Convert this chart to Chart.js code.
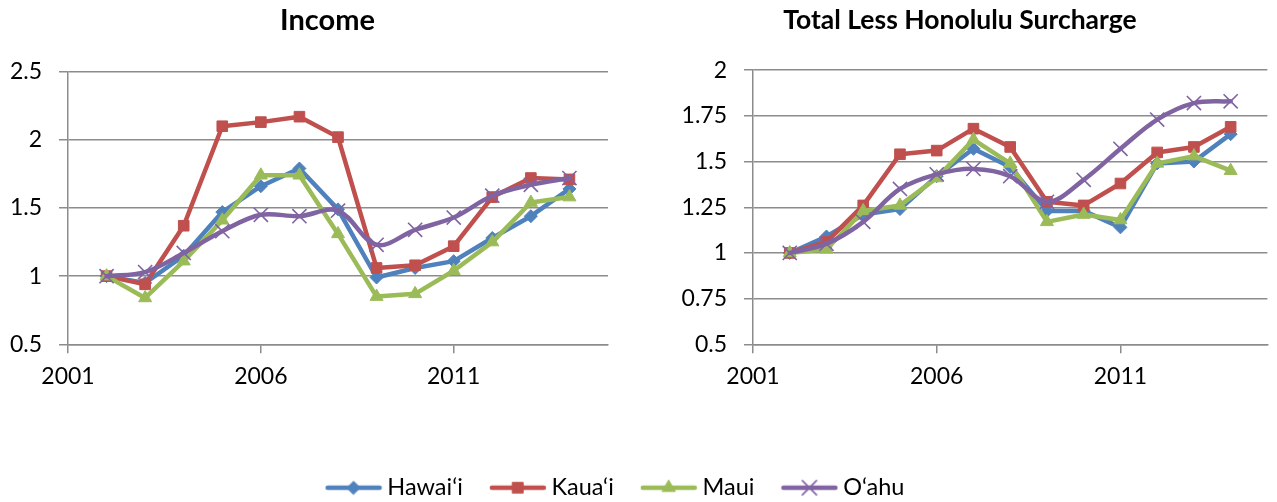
<!DOCTYPE html>
<html>
<head>
<meta charset="utf-8">
<script src="https://cdn.jsdelivr.net/npm/chart.js@4/dist/chart.umd.min.js"></script>
<style>
  html, body { margin: 0; padding: 0; background: #fff; overflow: hidden; width: 1277px; height: 502px; }
  canvas { position: absolute; }
</style>
</head>
<body>
<canvas id="c1" width="655" height="420" style="left:0;top:0;width:655px;height:420px"></canvas>
<canvas id="c2" width="638" height="420" style="left:641px;top:0;width:638px;height:420px"></canvas>
<canvas id="c3" width="1236" height="100" style="left:0;top:443px;width:1236px;height:100px"></canvas>
<script>
// ---------- data ----------
const years = [2002, 2003, 2004, 2005, 2006, 2007, 2008, 2009, 2010, 2011, 2012, 2013, 2014];
const seriesNames = ['Hawai\u2018i', 'Kaua\u2018i', 'Maui', 'O\u2018ahu'];

const incomeHawaii = [1.00, 0.95, 1.15, 1.47, 1.66, 1.79, 1.49, 0.99, 1.06, 1.11, 1.28, 1.44, 1.64];
const incomeKauai  = [1.00, 0.94, 1.37, 2.10, 2.13, 2.17, 2.02, 1.06, 1.08, 1.22, 1.58, 1.72, 1.71];
const incomeMaui   = [1.00, 0.84, 1.11, 1.41, 1.74, 1.74, 1.31, 0.85, 0.87, 1.04, 1.25, 1.54, 1.58];
const incomeOahu   = [1.00, 1.03, 1.17, 1.33, 1.45, 1.44, 1.48, 1.23, 1.34, 1.43, 1.59, 1.67, 1.72];

const totalHawaii = [1.00, 1.09, 1.21, 1.24, 1.42, 1.57, 1.47, 1.23, 1.23, 1.14, 1.49, 1.50, 1.65];
const totalKauai  = [1.00, 1.06, 1.26, 1.54, 1.56, 1.68, 1.58, 1.28, 1.26, 1.38, 1.55, 1.58, 1.69];
const totalMaui   = [1.00, 1.02, 1.23, 1.26, 1.41, 1.62, 1.49, 1.17, 1.21, 1.18, 1.49, 1.53, 1.45];
const totalOahu   = [1.00, 1.05, 1.17, 1.35, 1.43, 1.46, 1.42, 1.28, 1.40, 1.57, 1.73, 1.82, 1.83];

const titles = ['Income', 'Total Less Honolulu Surcharge'];
const xTicks = [2001, 2006, 2011];
const xRange = [2001, 2015];
const yTicksIncome = [0.5, 1, 1.5, 2, 2.5];
const yTicksTotal = [0.5, 0.75, 1, 1.25, 1.5, 1.75, 2];

// ---------- styles ----------
const colors = ['#4F81BD', '#C0504D', '#9BBB59', '#8064A2'];
const pointStyles = ['rectRot', 'rect', 'triangle', 'crossRot'];
const pointRadii = [6.5, 7.5, 7.5, 10];
const FONT = 'Lato, "Open Sans", sans-serif';
const GRID = '#8c8c8c';
const TICK_SIZE = 23;

function toXY(vals) { return years.map((y, i) => ({ x: y, y: vals[i] })); }

function makeDatasets(arrs) {
  return arrs.map((vals, i) => ({
    label: seriesNames[i],
    data: toXY(vals),
    borderColor: colors[i],
    backgroundColor: colors[i],
    borderWidth: 4.5,
    pointStyle: pointStyles[i],
    pointRadius: pointRadii[i],
    pointHoverRadius: pointRadii[i],
    pointBorderWidth: i === 3 ? 1.6 : 1,
    pointBorderColor: colors[i],
    pointBackgroundColor: colors[i],
    tension: i === 3 ? 0.35 : 0,
    borderJoinStyle: 'round',
    borderCapStyle: 'round',
    order: 4 - i,
    fill: false
  }));
}

function makeChart(id, title, titleSize, arrs, yTicks, yAxisWidth, rightSpace) {
  const H = 420;
  const scales = {
    x: {
      type: 'linear',
      min: xRange[0],
      max: xRange[1],
      afterFit: (s) => { s.height = H - 344.3; },
      afterBuildTicks: (s) => { s.ticks = xTicks.map(v => ({ value: v })); },
      ticks: {
        autoSkip: false,
        maxRotation: 0,
        color: '#000',
        font: { family: FONT, size: TICK_SIZE },
        padding: 9,
        callback: (v) => String(v)
      },
      grid: { drawOnChartArea: false, drawTicks: true, tickLength: 9, color: GRID, lineWidth: 1.5 },
      border: { display: true, color: GRID, width: 1.5 }
    },
    y: {
      position: 'left',
      min: yTicks[0],
      max: yTicks[yTicks.length - 1],
      afterFit: (s) => { s.width = yAxisWidth; },
      afterBuildTicks: (s) => { s.ticks = yTicks.map(v => ({ value: v })); },
      ticks: {
        autoSkip: false,
        color: '#000',
        font: { family: FONT, size: TICK_SIZE },
        padding: 17,
        callback: (v) => String(v)
      },
      grid: { color: GRID, lineWidth: 1.5, drawTicks: true, tickLength: 9, tickColor: GRID },
      border: { display: true, color: GRID, width: 1.5 }
    }
  };
  if (rightSpace > 0) {
    // empty spacer on the right so the full-width title stays centred on the whole panel
    scales.spacer = {
      type: 'linear',
      position: 'right',
      display: true,
      afterFit: (s) => { s.width = rightSpace; },
      ticks: { display: false },
      grid: { display: false, drawTicks: false },
      border: { display: false }
    };
  }
  return new Chart(document.getElementById(id), {
    type: 'line',
    data: { datasets: makeDatasets(arrs) },
    options: {
      responsive: false,
      animation: false,
      devicePixelRatio: 1,
      layout: { padding: 0 },
      plugins: {
        legend: { display: false },
        tooltip: { enabled: false },
        title: {
          display: true,
          text: title,
          color: '#000',
          font: { family: FONT, size: titleSize, weight: 'bold', lineHeight: 1.2 },
          padding: { top: 3 + (29 - titleSize) * 0.6, bottom: 33.9 }
        }
      },
      scales: scales
    }
  });
}

// left: chart area 68..608, title centred at 327.5
makeChart('c1', titles[0], 29, [incomeHawaii, incomeKauai, incomeMaui, incomeOahu], yTicksIncome, 68, 47);
// right: canvas at 641, chart area 753..1279, title centred at 960
makeChart('c2', titles[1], 26.5, [totalHawaii, totalKauai, totalMaui, totalOahu], yTicksTotal, 112, 0);

// ---------- shared legend ----------
function legendGlyph(i) {
  const cv = document.createElement('canvas');
  cv.width = 58; cv.height = 24;
  const ctx = cv.getContext('2d');
  ctx.strokeStyle = colors[i];
  ctx.fillStyle = colors[i];
  ctx.lineWidth = 4.5;
  ctx.lineCap = 'round';
  ctx.beginPath(); ctx.moveTo(3, 12); ctx.lineTo(55, 12); ctx.stroke();
  const opts = { pointStyle: pointStyles[i], radius: pointRadii[i], rotation: 0, borderWidth: i === 3 ? 1.6 : 1 };
  if (Chart.helpers && Chart.helpers.drawPoint) {
    ctx.lineWidth = opts.borderWidth;
    Chart.helpers.drawPoint(ctx, opts, 29, 12);
  }
  return cv;
}
const glyphs = seriesNames.map((_, i) => legendGlyph(i));

new Chart(document.getElementById('c3'), {
  type: 'line',
  data: { datasets: seriesNames.map((n, i) => ({ label: n, data: [], borderColor: colors[i], backgroundColor: colors[i] })) },
  options: {
    responsive: false,
    animation: false,
    devicePixelRatio: 1,
    scales: { x: { display: false }, y: { display: false } },
    plugins: {
      tooltip: { enabled: false },
      legend: {
        display: true,
        position: 'top',
        maxHeight: 100,
        labels: {
          usePointStyle: true,
          pointStyleWidth: 44,
          padding: 33,
          color: '#000',
          font: { family: FONT, size: 23.5 },
          generateLabels: () => seriesNames.map((n, i) => ({
            text: n,
            pointStyle: glyphs[i],
            fillStyle: colors[i],
            strokeStyle: colors[i],
            lineWidth: 0,
            hidden: false,
            datasetIndex: i,
            fontColor: '#000'
          }))
        }
      }
    }
  }
});
</script>
</body>
</html>
